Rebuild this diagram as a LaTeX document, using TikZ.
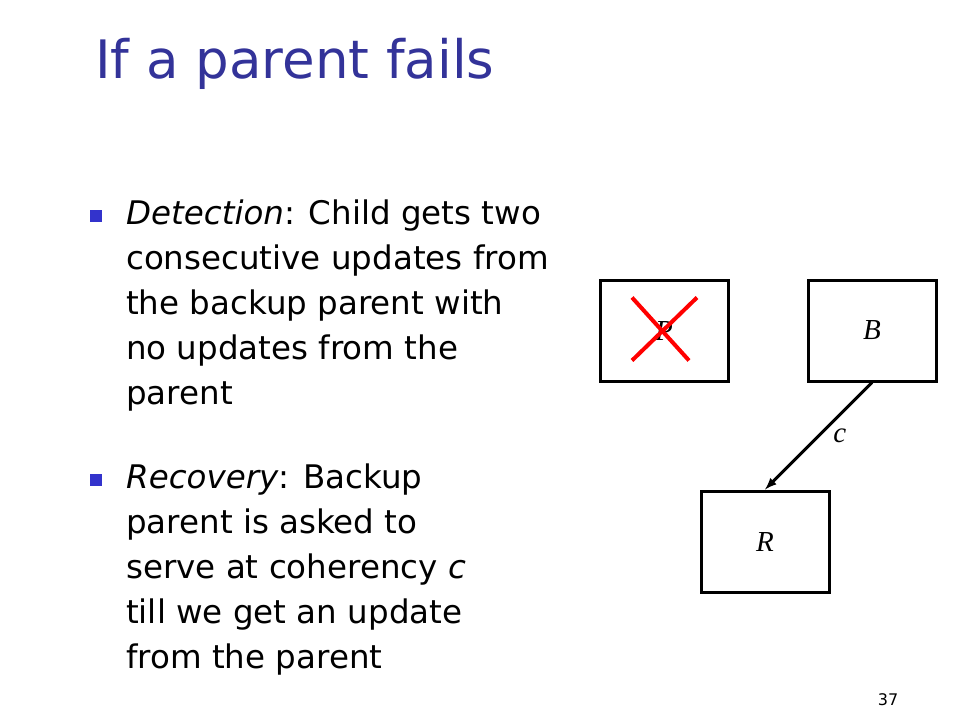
\documentclass[tikz,border=0pt]{standalone}
\usepackage{fontspec}
\setmainfont{DejaVu Sans}
\newfontfamily\boxfont{Liberation Serif}
\definecolor{titleblue}{RGB}{51,51,153}
\definecolor{bulletblue}{RGB}{51,51,204}
\begin{document}
\begin{tikzpicture}[>=latex, x=1pt, y=-1pt,
    box/.style={draw, line width=3pt, minimum width=128pt, minimum height=101pt, inner sep=0pt,
        font=\boxfont\itshape\fontsize{29}{29}\selectfont},
    bullet/.style={fill=bulletblue, minimum size=12pt, inner sep=0pt},
    para/.style={anchor=north west, align=left, inner sep=0pt,
        font=\fontsize{32.5}{45}\selectfont}
]
    \useasboundingbox (0, 0) rectangle (960, 720);
    % title
    \node (title) [anchor=base west, inner sep=0pt, text=titleblue,
        font=\fontsize{53}{53}\selectfont] at (95, 78) {If a parent fails};

    % bullets
    \draw
        node (b1) [bullet] at (96, 216) {}
        node (b2) [bullet] at (96, 480) {}
    ;
    \node (detect) [para] at (126, 200) {\textit{Detection}: Child gets two\\
        consecutive updates from\\
        the backup parent with\\
        no updates from the\\
        parent};
    \node (recover) [para] at (126, 464) {\textit{Recovery}: Backup\\
        parent is asked to\\
        serve at coherency \textit{c}\\
        till we get an update\\
        from the parent};

    % nodes
    \draw
        node (P) [box] at (664, 330.5) {P}
        node (B) [box] at (872, 330.5) {B}
        node (R) [box] at (765, 541.5) {R}
    ;
    \draw [->, line width=3pt]
        (B.south) -- (R.north) node [midway, right=10pt, font=\boxfont\itshape\fontsize{29}{29}\selectfont] (c) {c}
    ;
    %% failed parent
    \draw [red, line width=4pt]
        ([shift={(-32,-33)}]P.center) -- ([shift={(25,30)}]P.center)
        ([shift={(33,-33)}]P.center) -- ([shift={(-32,30)}]P.center)
    ;

    \node (page) [font=\fontsize{16}{16}\selectfont] at (888, 700) {37};
\end{tikzpicture}
\end{document}
